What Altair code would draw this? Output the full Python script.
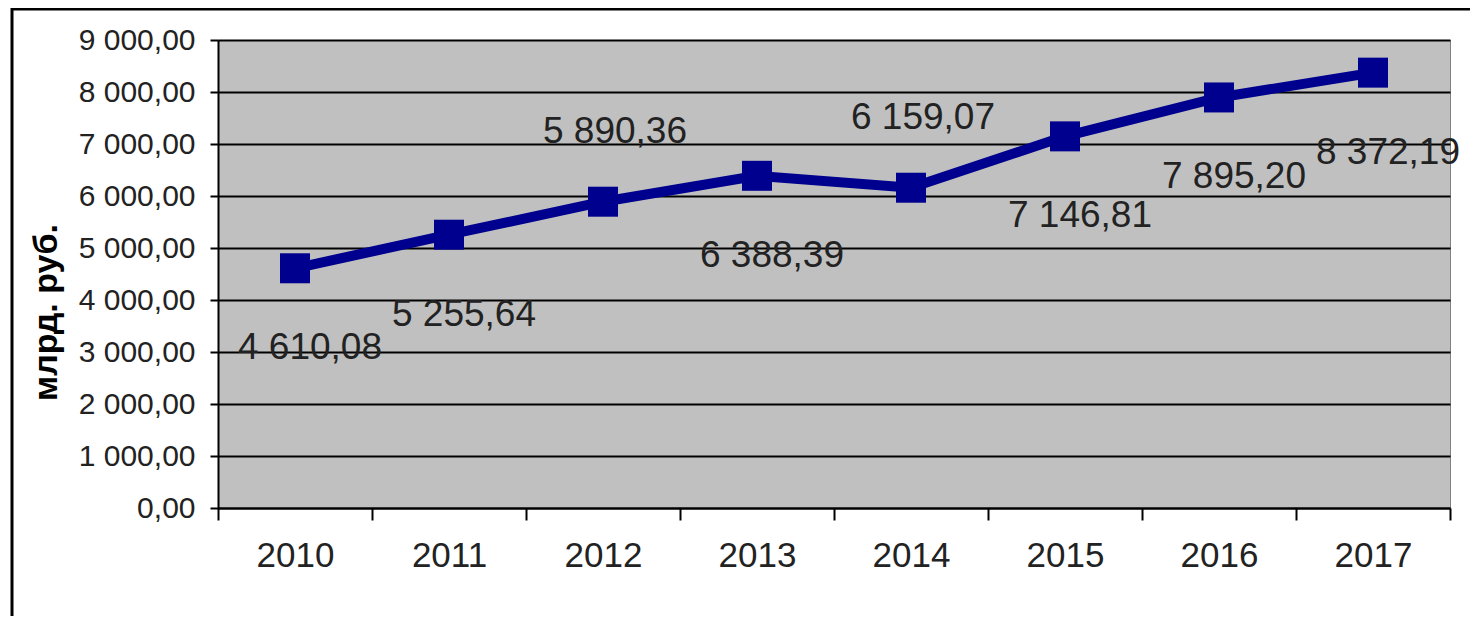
import altair as alt
import pandas as pd

years = ["2010", "2011", "2012", "2013", "2014", "2015", "2016", "2017"]
values = [4610.08, 5255.64, 5890.36, 6388.39, 6159.07, 7146.81, 7895.20, 8372.19]
labels_above = ["2012", "2014"]
y_ticks = [0, 1000, 2000, 3000, 4000, 5000, 6000, 7000, 8000, 9000]

NAVY = "#00008f"
FONT = "Liberation Sans, Arial, sans-serif"

df = pd.DataFrame({"year": years, "value": values})
df["pos"] = ["above" if y in labels_above else "below" for y in years]

x = alt.X(
    "year:O",
    scale=alt.Scale(type="band", paddingInner=0, paddingOuter=0),
    axis=alt.Axis(
        title=None, labelAngle=0, tickBand="extent", grid=False,
        tickSize=12, labelPadding=18, labelFont=FONT, labelFontSize=35,
        labelColor="#222222",
    ),
)
y = alt.Y(
    "value:Q",
    scale=alt.Scale(domain=[0, 9000], nice=False, zero=True),
    axis=alt.Axis(
        values=y_ticks, format=",.2f", title="млрд. руб.", grid=True,
        tickSize=8, labelPadding=15, labelFont=FONT, labelFontSize=30,
        labelColor="#222222",
        titleFont=FONT, titleFontSize=34, titleFontWeight="bold",
        titleAngle=270, titleAlign="center", titleBaseline="middle",
        titleX=-172, titleY=272, titleColor="#000000",
    ),
)

base = alt.Chart(df).encode(x=x, y=y)
line = base.mark_line(color=NAVY, strokeWidth=10)
pts = base.mark_point(shape="square", filled=True, size=900, color=NAVY, opacity=1)
txt = alt.Text("value:Q", format=",.2f")
below = base.transform_filter(alt.datum.pos == "below").mark_text(
    dy=80, dx=15, font=FONT, fontSize=37, color="#222222", baseline="middle"
).encode(text=txt)
above = base.transform_filter(alt.datum.pos == "above").mark_text(
    dy=-70, dx=12, font=FONT, fontSize=37, color="#222222", baseline="middle"
).encode(text=txt)

one = pd.DataFrame({"a": [0]})
frame_left = alt.Chart(one).mark_rule(color="#000000", strokeWidth=3).encode(
    x=alt.value(-206), y=alt.value(-32), y2=alt.value(640)
)
frame_top = alt.Chart(one).mark_rule(color="#000000", strokeWidth=3).encode(
    x=alt.value(-207), x2=alt.value(1300), y=alt.value(-31)
)

chart = (
    alt.layer(line, pts, below, above, frame_left, frame_top)
    .properties(
        width=1232, height=468,
        autosize=alt.AutoSizeParams(type="none"),
        padding={"left": 210, "top": 32, "right": 20, "bottom": 108},
        background="#ffffff",
    )
    .configure(locale={"number": {"decimal": ",", "thousands": " ", "grouping": [3], "currency": ["", ""]}})
    .configure_view(fill="#c0c0c0", stroke="#808080", strokeWidth=1)
    .configure_axis(
        gridColor="#000000", gridWidth=2, gridOpacity=1,
        domainColor="#000000", domainWidth=2,
        tickColor="#000000", tickWidth=2,
    )
)

chart.save("out.html", embed_options={"renderer": "svg", "actions": False})
